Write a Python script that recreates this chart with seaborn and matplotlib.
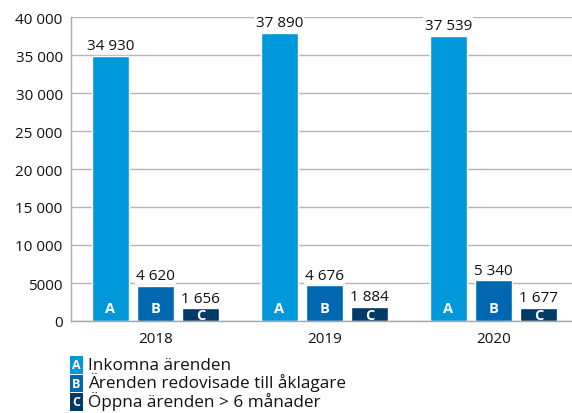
import matplotlib
matplotlib.use("Agg")
import matplotlib.pyplot as plt
import seaborn as sns
import pandas as pd

years = ["2018", "2019", "2020"]
series = ["Inkomna ärenden", "Ärenden redovisade till åklagare", "Öppna ärenden > 6 månader"]
letters = ["A", "B", "C"]
inkomna = [34930, 37890, 37539]
redovisade = [4620, 4676, 5340]
oppna = [1656, 1884, 1677]
yticks = [0, 5000, 10000, 15000, 20000, 25000, 30000, 35000, 40000]
ytick_labels = ["0", "5000", "10 000", "15 000", "20 000", "25 000", "30 000", "35 000", "40 000"]
colors = ["#0098da", "#0068b1", "#003a68"]

df = pd.DataFrame({
    "year": years * 3,
    "series": [s for s in series for _ in years],
    "value": inkomna + redovisade + oppna,
})

sns.set_theme(style="white")
plt.rcParams["font.family"] = ["Open Sans", "DejaVu Sans"]
text_color = "#111111"

fig = plt.figure(figsize=(5.72, 4.14), dpi=100)
ax = fig.add_axes([71 / 572, 1 - 322 / 414, (578 - 71) / 572, (322 - 18) / 414])

sns.barplot(data=df, x="year", y="value", hue="series", hue_order=series,
            palette=colors, width=0.8, gap=0.18, saturation=1,
            legend=False, ax=ax)

ax.set_ylim(0, 40000)
ax.set_xlim(-0.5, 2.5)
ax.set_xlabel("")
ax.set_ylabel("")
ax.set_yticks(yticks)
ax.set_yticklabels(ytick_labels)
ax.yaxis.grid(True, color="#b5b5b5", lw=1)
ax.set_axisbelow(True)
for side in ["top", "right"]:
    ax.spines[side].set_visible(False)
for side in ["left", "bottom"]:
    ax.spines[side].set_color("#a8a8a8")
    ax.spines[side].set_linewidth(1)

ax.tick_params(axis="y", length=0, pad=6, labelsize=11, labelcolor=text_color)
ax.tick_params(axis="x", which="major", length=0, pad=7, labelsize=11, labelcolor=text_color)
ax.set_xticks([0.5, 1.5], minor=True)
ax.tick_params(axis="x", which="minor", direction="in", length=6, color="#a8a8a8", width=1)

fmt = lambda v: f"{v:,.0f}".replace(",", " ")
for cont, letter in zip(ax.containers, letters):
    ax.bar_label(cont, fmt=fmt, padding=2, fontsize=11, color=text_color,
                 bbox=dict(fc="white", ec="none", pad=1))
    for bar in cont:
        cx = bar.get_x() + bar.get_width() / 2
        off = 4.5 if letter == "C" else 9
        ax.annotate(letter, (cx, 0), xytext=(0, off), textcoords="offset points",
                    ha="center", va="center", color="white", fontsize=10.5,
                    fontweight="bold")

# legend below the chart: letter keys plus one block of series names
row_top = 366
row_step = 18.5
for i, (letter, col) in enumerate(zip(letters, colors)):
    y = 1 - (row_top + row_step * i) / 414
    fig.text(76.5 / 572, y, letter, ha="center", va="center", color="white",
             fontsize=9, fontweight="bold",
             bbox=dict(boxstyle="square,pad=0.18", fc=col, ec="none"))
fig.text(88 / 572, 1 - (row_top + row_step) / 414, "\n".join(series),
         ha="left", va="center", color=text_color, fontsize=12.3,
         linespacing=1.0)

fig.savefig("out.png", dpi=100)
